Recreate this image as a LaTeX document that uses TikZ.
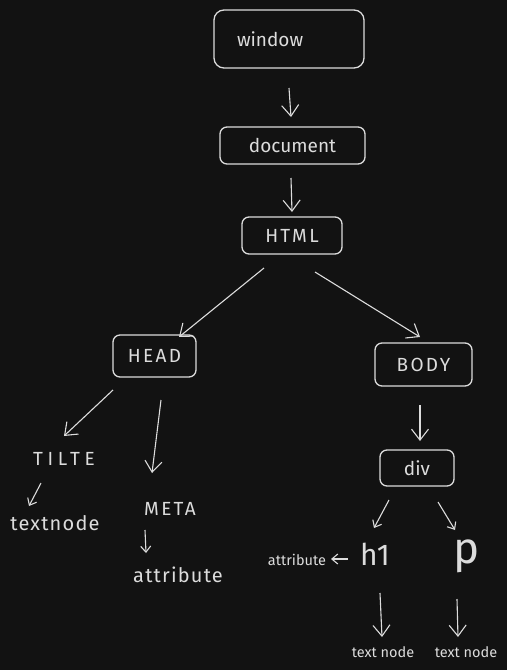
\documentclass[tikz,border=0pt]{standalone}
\usepackage{fontspec}
\setmainfont{Fira Sans}
\newfontfamily\capsfont[LetterSpace=12]{Fira Sans}
\newfontfamily\widecaps[LetterSpace=24]{Fira Sans}
\newfontfamily\loosefont[LetterSpace=6]{Fira Sans}
\usepackage{xcolor}
\usepackage{tikz}
\usetikzlibrary{arrows.meta, positioning}

\definecolor{bgdark}{HTML}{121212}
\definecolor{inkwhite}{HTML}{DCDCDC}

\tikzset{
  dombox/.style={draw=inkwhite, text=inkwhite, rounded corners=7pt, line width=1.3pt,
                 font=\fontsize{19}{22}\selectfont, inner sep=0pt},
  domtext/.style={text=inkwhite, font=\fontsize{19}{22}\selectfont, inner sep=1pt},
  smalltext/.style={domtext, font=\fontsize{14.5}{17}\selectfont},
  arr/.style={draw=inkwhite, line width=1.1pt, -{Straight Barb[length=11pt,width=17pt]}},
  sarr/.style={draw=inkwhite, line width=1.1pt, -{Straight Barb[length=6pt,width=10pt]}}
}

\begin{document}
\begin{tikzpicture}[x=1pt, y=-1pt]
        \fill[bgdark] (0,0) rectangle (507,670);
        \useasboundingbox (0,0) rectangle (507,670);

        % boxes
        \node[dombox, minimum width=150pt, minimum height=58pt, rounded corners=10pt,
              text width=104pt, inner xsep=23pt, align=left] (window) at (289,39) {window};
        \node[dombox, minimum width=145pt, minimum height=37pt] (document) at (292.5,145.5) {document};
        \node[dombox, minimum width=100pt, minimum height=37pt,
              font=\fontsize{19}{22}\capsfont] (html) at (292,235.5) {HTML};
        \node[dombox, minimum width=83pt, minimum height=42pt,
              font=\fontsize{19}{22}\capsfont] (head) at (154.5,356) {HEAD};
        \node[dombox, minimum width=97pt, minimum height=43pt,
              font=\fontsize{19}{22}\capsfont] (body) at (423.5,364.5) {BODY};
        \node[dombox, minimum width=74pt, minimum height=36pt] (div) at (417,468) {div};

        % leaves
        \node[domtext, font=\fontsize{19}{22}\widecaps] (title) at (64,459) {TILTE};
        \node[domtext, font=\fontsize{20}{23}\loosefont] (textnode) at (55,523) {textnode};
        \node[domtext, font=\fontsize{19}{22}\capsfont] (meta) at (170,509) {META};
        \node[domtext, font=\fontsize{20}{23}\loosefont] (metaattr) at (178,575) {attribute};
        \node[domtext, font=\fontsize{30}{34}\selectfont] (hone) at (375,554) {h1};
        \node[domtext, font=\fontsize{44}{50}\selectfont] (para) at (467,556) {p};
        \node[smalltext] (honeattr) at (297,560) {attribute};
        \node[smalltext] (honetext) at (383,652) {text node};
        \node[smalltext] (paratext) at (466,652) {text node};

        % tree edges
        \draw[arr] ([shift={(0,49)}]window.center) -- ([shift={(-1.5,-28.5)}]document.center);
        \draw[arr] ([shift={(-1.5,32.5)}]document.center) -- ([shift={(0,-23.5)}]html.center);
        \draw[arr] ([shift={(-28,32.5)}]html.center) -- ([shift={(24.5,-19)}]head.center);
        \draw[arr] ([shift={(23,36.5)}]html.center) -- ([shift={(-3.5,-27.5)}]body.center);
        \draw[arr] ([shift={(-41.5,34)}]head.center) -- ([shift={(0,-23)}]title.center);
        \draw[arr] ([shift={(6.5,44)}]head.center) -- ([shift={(-18,-36)}]meta.center);
        \draw[sarr] ([shift={(-23,24)}]title.center) -- ([shift={(-26,-17)}]textnode.center);
        \draw[sarr] ([shift={(-25,21)}]meta.center) -- ([shift={(-32,-22)}]metaattr.center);
        \draw[arr] ([shift={(-3.5,40.5)}]body.center) -- ([shift={(3,-27)}]div.center);
        \draw[sarr] ([shift={(-28,32)}]div.center) -- ([shift={(-1,-26)}]hone.center);
        \draw[sarr] ([shift={(21,34)}]div.center) -- ([shift={(-12,-26)}]para.center);
        \draw[sarr] ([shift={(-27,5)}]hone.center) -- ([shift={(34,-1)}]honeattr.center);
        \draw[arr] ([shift={(5,39)}]hone.center) -- ([shift={(-1,-15)}]honetext.center);
        \draw[arr] ([shift={(-10,43)}]para.center) -- ([shift={(-8,-15)}]paratext.center);
\end{tikzpicture}
\end{document}
